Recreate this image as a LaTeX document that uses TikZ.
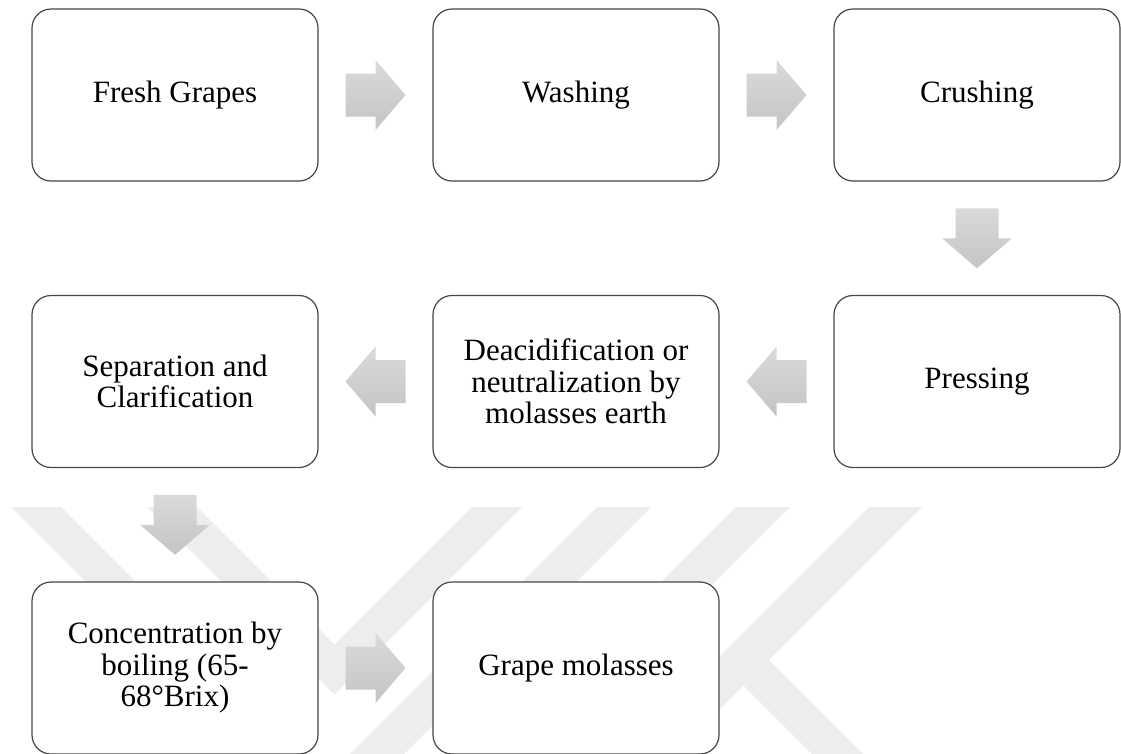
\documentclass[tikz,border=0pt]{standalone}
\usepackage{fontspec}
\setmainfont{Liberation Serif}
\usetikzlibrary{calc}
\definecolor{boxline}{RGB}{70,70,70}
\definecolor{wmark}{RGB}{237,237,237}
\definecolor{arrtop}{RGB}{218,218,218}
\definecolor{arrbot}{RGB}{196,196,196}
\tikzset{
  stepbox/.style={draw=boxline, line width=1.2pt, fill=white, rounded corners=19pt,
    minimum width=286pt, minimum height=172pt, inner sep=0pt, align=center,
    font=\fontsize{31}{31.5}\selectfont},
  wm/.style={fill=wmark, draw=none},
  arrowfill/.style={top color=arrtop, bottom color=arrbot, draw=none},
  arrowright/.pic={\path[arrowfill] (-30,-21.5) -- (0,-21.5) -- (0,-35) -- (30,0) -- (0,35) -- (0,21.5) -- (-30,21.5) -- cycle;},
  arrowleft/.pic={\path[arrowfill] (30,-21.5) -- (0,-21.5) -- (0,-35) -- (-30,0) -- (0,35) -- (0,21.5) -- (30,21.5) -- cycle;},
  arrowdown/.pic={\path[arrowfill] (-21.5,-30) -- (21.5,-30) -- (21.5,0) -- (35,0) -- (0,30) -- (-35,0) -- (-21.5,0) -- cycle;}
}
\begin{document}
\begin{tikzpicture}[x=1pt,y=-1pt]
\useasboundingbox (0,0) rectangle (1121,753);
% watermark
\begin{scope}
\clip (0,0) rectangle (1121,753);
\fill[wm] (11,507) -- (61,507) -- (321,767) -- (271,767) -- cycle;
\fill[wm] (147,507) -- (197,507) -- (334.5,644.5) -- (472,507) -- (522,507) -- (334.5,694.5) -- cycle;
\fill[wm] (597,507) -- (651,507) -- (391,767) -- (337,767) -- cycle;
\fill[wm] (736,507) -- (790,507) -- (530,767) -- (476,767) -- cycle;
\fill[wm] (869,507) -- (922,507) -- (662,767) -- (609,767) -- cycle;
\fill[wm] (769,660) -- (876,767) -- (825,767) -- (743.5,685.5) -- cycle;
\end{scope}
% steps
\node[stepbox] (n1) at (175,95) {Fresh Grapes};
\node[stepbox] (n2) at (576,95) {Washing};
\node[stepbox] (n3) at (977,95) {Crushing};
\node[stepbox] (n4) at (977,381.5) {Pressing};
\node[stepbox] (n5) at (576,381.5) {Deacidification or\\neutralization by\\molasses earth};
\node[stepbox] (n6) at (175,381.5) {Separation and\\Clarification};
\node[stepbox] (n7) at (175,668) {Concentration by\\boiling (65-\\68°Brix)};
\node[stepbox] (n8) at (576,668) {Grape molasses};
% block arrows
\pic at ($(n1.east)!0.5!(n2.west)$) {arrowright};
\pic at ($(n2.east)!0.5!(n3.west)$) {arrowright};
\pic at ($(n3.south)!0.5!(n4.north)$) {arrowdown};
\pic at ($(n4.west)!0.5!(n5.east)$) {arrowleft};
\pic at ($(n5.west)!0.5!(n6.east)$) {arrowleft};
\pic at ($(n6.south)!0.5!(n7.north)$) {arrowdown};
\pic at ($(n7.east)!0.5!(n8.west)$) {arrowright};
\end{tikzpicture}
\end{document}
